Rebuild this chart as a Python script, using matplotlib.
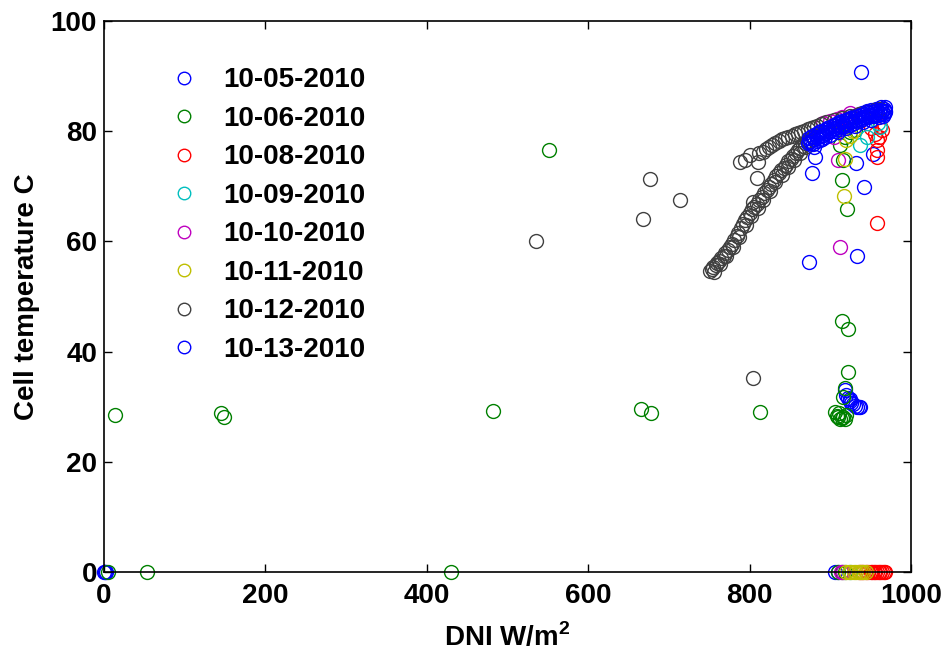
import matplotlib
matplotlib.use('Agg')
import matplotlib.pyplot as plt

plt.rcParams['font.family'] = ['Liberation Sans', 'DejaVu Sans']
plt.rcParams['font.weight'] = 'bold'
plt.rcParams['mathtext.fontset'] = 'custom'
plt.rcParams['mathtext.rm'] = 'Liberation Sans:bold'
plt.rcParams['mathtext.bf'] = 'Liberation Sans:bold'

# (DNI, temperature) pairs, one list per day
d0505 = [(0, 0), (1, 0), (2, 0), (906, 0), (909, 0), (938, 90.7), (933, 57.4), (874, 56.3),
         (881, 75.3), (877, 72.4), (932, 74.2), (942, 69.9), (953, 75.9),
         (918, 33.0), (920, 32.1), (922, 31.5), (924, 31.0), (925, 31.4), (926, 30.7),
         (928, 30.5), (930, 30.2), (933, 30.0), (935, 29.9), (937, 30.0),
         (874, 78.0), (879, 78.9), (885, 79.4), (891, 79.9), (897, 80.4), (903, 80.9),
         (909, 81.3), (915, 81.7), (921, 82.1), (927, 82.5), (933, 82.9), (939, 83.3),
         (945, 83.6), (951, 83.9), (957, 84.1), (963, 84.3), (968, 84.4)]
d0506 = [(13, 28.5), (5, 0), (53, 0), (145, 28.8), (149, 28.1), (430, 0), (482, 29.2),
         (551, 76.6), (665, 29.5), (678, 28.8), (813, 29.0), (914, 45.5), (922, 44.1),
         (922, 36.3), (918, 33.4), (916, 31.8), (906, 29.0), (908, 28.4), (910, 28.1),
         (912, 27.8), (914, 27.9), (916, 28.1), (918, 27.8), (920, 28.5), (911, 28.8),
         (914, 71.1), (921, 65.9), (916, 74.8), (912, 77.5), (918, 79.0), (925, 79.8),
         (930, 80.3), (910, 0), (914, 0), (918, 0)]
d0508 = [(958, 78.4), (958, 76.6), (958, 75.3), (958, 63.3), (964, 80.2), (962, 81.0),
         (955, 79.5), (960, 79.0), (950, 80.5),
         (935, 0), (938, 0), (941, 0), (944, 0), (947, 0), (950, 0), (952, 0), (954, 0),
         (956, 0), (958, 0), (960, 0), (962, 0), (964, 0), (966, 0), (968, 0)]
d0509 = [(937, 77.5), (959, 81.5), (962, 80.8), (945, 79.0), (925, 0)]
d0510 = [(912, 59.0), (910, 74.8), (891, 81.5), (924, 83.3), (900, 81.8), (908, 82.2),
         (915, 82.6), (905, 79.0), (913, 0), (916, 0)]
d0511 = [(917, 68.2), (918, 75.0), (920, 78.4), (924, 79.2), (928, 80.0), (920, 0),
         (923, 0), (926, 0), (929, 0), (932, 0), (935, 0), (938, 0), (941, 0), (944, 0)]
d0512 = [(751, 54.6), (753, 54.9), (755, 55.3), (758, 55.8), (760, 56.0), (762, 56.5),
         (765, 57.0), (768, 57.4), (770, 57.9), (773, 58.5), (776, 59.0), (778, 59.6),
         (781, 60.3), (784, 61.0), (786, 61.6), (789, 62.4), (792, 63.2), (794, 63.8),
         (797, 64.5), (800, 65.1), (803, 65.8), (806, 66.3), (809, 66.8), (812, 67.5),
         (815, 68.1), (818, 68.7), (821, 69.3), (824, 69.8), (827, 70.5), (830, 71.2),
         (833, 71.8), (836, 72.4), (839, 72.9), (842, 73.4), (845, 73.9), (848, 74.5),
         (851, 75.0), (854, 75.5), (857, 76.0), (860, 76.5), (863, 77.0), (866, 77.4),
         (869, 77.9), (872, 78.3),
         (756, 54.5), (763, 55.9), (771, 57.3), (779, 58.9), (787, 60.8), (795, 62.9),
         (802, 64.6), (810, 66.0), (817, 67.6), (825, 69.1), (832, 70.7), (840, 72.1),
         (847, 73.5), (855, 74.8), (862, 76.1), (869, 77.2),
         (812, 76.0), (816, 76.3), (820, 76.8), (824, 77.2), (828, 77.5), (832, 77.9),
         (836, 78.2), (840, 78.5), (844, 78.8), (848, 79.0), (852, 79.2), (856, 79.4),
         (860, 79.7), (864, 79.9), (868, 80.1), (872, 80.4), (876, 80.6), (880, 80.8),
         (884, 81.0), (888, 81.3),
         (895, 81.6), (905, 82.0), (915, 82.4), (925, 82.8), (935, 83.1), (945, 83.5),
         (955, 83.8), (962, 84.1),
         (535, 60.1), (668, 64.1), (677, 71.3), (714, 67.5), (804, 35.2), (788, 74.4),
         (794, 74.8), (800, 75.7), (810, 74.4), (809, 71.5), (804, 67.2)]
d0513 = [(872, 77.8), (873, 78.8), (875, 78.3), (877, 79.2), (878, 77.6), (880, 78.6),
         (882, 79.5), (884, 78.9), (886, 79.8), (887, 78.4), (889, 80.0), (891, 79.3),
         (893, 80.3), (895, 79.6), (896, 80.6), (898, 80.0), (900, 80.8), (902, 80.2),
         (904, 81.1), (905, 80.5), (907, 81.3), (909, 80.7), (911, 81.6), (913, 81.0),
         (915, 81.8), (917, 81.2), (919, 82.0), (920, 81.4), (922, 82.2), (924, 81.7),
         (926, 82.4), (928, 81.9), (930, 82.6), (932, 82.1), (934, 82.8), (936, 82.3),
         (938, 83.0), (940, 82.5), (942, 83.2), (944, 82.7), (946, 83.4), (948, 82.9),
         (950, 83.5), (952, 83.0), (954, 83.7), (956, 83.2), (958, 83.8), (960, 83.4),
         (962, 83.9), (964, 83.6), (966, 84.0), (968, 83.7), (967, 83.2), (965, 82.8),
         (880, 77.2), (890, 78.5), (900, 79.3), (910, 79.9), (920, 80.5), (930, 81.0),
         (940, 81.6), (950, 82.1), (960, 82.6),
         (876, 77.9), (883, 78.2), (888, 79.1), (894, 79.0), (899, 79.8), (906, 80.0),
         (912, 80.4), (918, 80.9), (924, 81.2), (929, 81.5), (935, 81.9), (941, 82.2),
         (947, 82.5), (953, 82.7), (959, 83.0), (963, 83.2), (968, 83.4)]

days = ['10-05-2010', '10-06-2010', '10-08-2010', '10-09-2010',
        '10-10-2010', '10-11-2010', '10-12-2010', '10-13-2010']
series = [d0505, d0506, d0508, d0509, d0510, d0511, d0512, d0513]
colors = ['#0000ff', '#008000', '#ff0000', '#00bfbf',
          '#bf00bf', '#bfbf00', '#404040', '#0000ff']

fig = plt.figure(figsize=(9.46, 6.54), dpi=100)
ax = fig.add_axes([0.110, 0.1254, 0.853, 0.8425])

for pts, c, lab in zip(series, colors, days):
    xs = [p[0] for p in pts]
    ys = [p[1] for p in pts]
    ax.plot(xs, ys, linestyle='none', marker='o', markersize=10, mfc='none',
            mec=c, mew=1.0, label=lab, clip_on=False)

ax.set_xlim(0, 1000)
ax.set_ylim(0, 100)
ax.set_xticks(range(0, 1001, 200))
ax.set_yticks(range(0, 101, 20))
ax.tick_params(direction='in', length=6, width=1, top=True, right=True,
               labelsize=20, pad=5)
ax.tick_params(axis='x', pad=8)
for s in ax.spines.values():
    s.set_linewidth(1.2)

ax.set_xlabel(r'DNI W/m$^\mathbf{2}$', fontsize=20, fontweight='bold', labelpad=10)
ax.set_ylabel('Cell temperature C', fontsize=20, fontweight='bold', labelpad=8)

leg = ax.legend(loc='upper left', bbox_to_anchor=(0.082, 0.916), frameon=False,
                fontsize=20, borderpad=0, borderaxespad=0, handlelength=1.0,
                handletextpad=0.9, labelspacing=0.45, markerscale=0.9)

fig.savefig('out.png', dpi=100)
